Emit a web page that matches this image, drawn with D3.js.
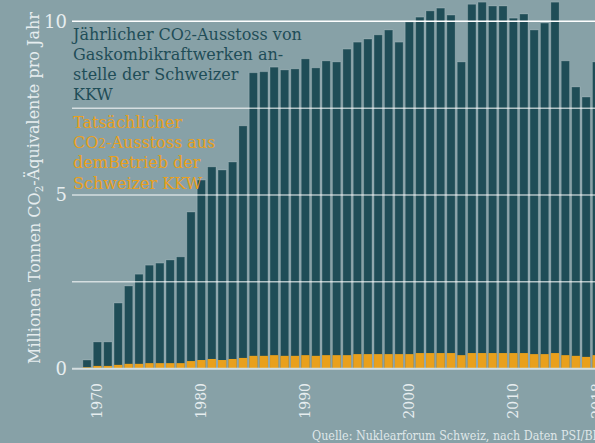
<!DOCTYPE html>
<html>
<head>
<meta charset="utf-8">
<script src="https://cdn.jsdelivr.net/npm/d3@7"></script>
<style>
  body { margin: 0; background: #87a1a7; }
  svg { display: block; font-family: "DejaVu Serif", serif; }
</style>
</head>
<body>
<div id="chart"></div>
<script>
// years shown as bars
var years = d3.range(1969, 2019);
// CO2 if gas combined-cycle plants replaced the Swiss NPPs (Mio t / year)
var gasValues = [0.25, 0.77, 0.77, 1.89, 2.38, 2.72, 2.98, 3.04, 3.13, 3.22,
  4.51, 5.43, 5.81, 5.72, 5.95, 6.99, 8.52, 8.55, 8.68, 8.60,
  8.63, 8.92, 8.66, 8.86, 8.83, 9.20, 9.40, 9.49, 9.61, 9.75,
  9.40, 9.98, 10.12, 10.30, 10.38, 10.18, 8.83, 10.49, 10.55, 10.44,
  10.44, 10.09, 10.21, 9.75, 9.95, 10.55, 8.86, 8.11, 7.82, 8.83];
// actual CO2 from operating the Swiss NPPs
var actualValues = [0.04, 0.08, 0.08, 0.11, 0.14, 0.14, 0.16, 0.16, 0.16, 0.16,
  0.22, 0.25, 0.28, 0.25, 0.28, 0.31, 0.37, 0.37, 0.39, 0.37,
  0.37, 0.39, 0.37, 0.39, 0.39, 0.39, 0.42, 0.42, 0.42, 0.42,
  0.42, 0.42, 0.45, 0.45, 0.45, 0.45, 0.39, 0.45, 0.45, 0.45,
  0.45, 0.45, 0.45, 0.42, 0.42, 0.45, 0.39, 0.37, 0.34, 0.39];
var xTickYears = [1970, 1980, 1990, 2000, 2010, 2018];
var yTickLabels = [0, 5, 10];
var gridValues = [2.5, 5, 7.5, 10];

var width = 595, height = 443;
var darkCol = "#1f4d57", orangeCol = "#e9a01c", lightText = "#e6edef";

var svg = d3.select("#chart").append("svg")
  .attr("width", width).attr("height", height);

var x = d3.scaleBand().domain(years).range([81.8, 601.8])
  .paddingInner(0.2).paddingOuter(0.1);
var y = d3.scaleLinear().domain([0, 10]).range([368.7, 21.3]);

// gas bars
svg.append("g").selectAll("rect")
  .data(years)
  .enter().append("rect")
  .attr("x", function(d) { return x(d); })
  .attr("width", x.bandwidth())
  .attr("y", function(d, i) { return y(gasValues[i]); })
  .attr("height", function(d, i) { return y(0) - y(gasValues[i]); })
  .attr("fill", darkCol)
  .attr("stroke", "rgba(255,255,255,0.18)")
  .attr("stroke-width", 1);

// actual bars
svg.append("g").selectAll("rect")
  .data(years)
  .enter().append("rect")
  .attr("x", function(d) { return x(d); })
  .attr("width", x.bandwidth())
  .attr("y", function(d, i) { return y(actualValues[i]); })
  .attr("height", function(d, i) { return y(0) - y(actualValues[i]); })
  .attr("fill", orangeCol);

// grid lines, drawn on top of the bars
svg.append("g").selectAll("line")
  .data(gridValues)
  .enter().append("line")
  .attr("x1", 72).attr("x2", width)
  .attr("y1", function(d) { return y(d); })
  .attr("y2", function(d) { return y(d); })
  .attr("stroke", "#fff")
  .attr("stroke-opacity", function(d) { return d == 10 ? 1 : 0.65; })
  .attr("stroke-width", 1.5);

// zero line
svg.append("line")
  .attr("x1", 72).attr("x2", width)
  .attr("y1", y(0)).attr("y2", y(0))
  .attr("stroke", "#d4dee0").attr("stroke-width", 2);

// y tick labels
svg.append("g").selectAll("text")
  .data(yTickLabels)
  .enter().append("text")
  .attr("x", 67)
  .attr("y", function(d) { return y(d); })
  .attr("dy", "0.36em")
  .attr("text-anchor", "end")
  .attr("fill", lightText)
  .style("font-size", "18px")
  .text(function(d) { return d; });

// x tick labels, rotated
svg.append("g").selectAll("text")
  .data(xTickYears)
  .enter().append("text")
  .attr("transform", function(d) {
    return "translate(" + (x(d) + x.bandwidth() / 2) + ",383) rotate(-90)";
  })
  .attr("text-anchor", "end")
  .attr("dy", "0.36em")
  .attr("fill", lightText)
  .style("font-size", "14px")
  .text(function(d) { return d; });

// y axis title
var yTitle = svg.append("text")
  .attr("transform", "translate(40,188) rotate(-90)")
  .attr("text-anchor", "middle")
  .attr("fill", lightText)
  .style("font-size", "16px");
yTitle.append("tspan").text("Millionen Tonnen CO");
yTitle.append("tspan").attr("dy", "0.25em").style("font-size", "10.5px").text("2");
yTitle.append("tspan").attr("dy", "-0.25em").text("-Äquivalente pro Jahr");

// legend blocks
function legendBlock(lines, top, col) {
  lines.forEach(function(line, i) {
    var t = svg.append("text").attr("fill", col).style("font-size", "16px")
      .attr("x", 73).attr("y", top + i * 20.2);
    var parts = line.split("CO2");
    t.append("tspan").text(parts[0]);
    if (parts.length > 1) {
      t.append("tspan").text("CO");
      t.append("tspan").style("font-size", "12px").text("2");
      t.append("tspan").text(parts[1]);
    }
  });
}
legendBlock(["Jährlicher CO2-Ausstoss von", "Gaskombikraftwerken an-",
  "stelle der Schweizer", "KKW"], 39.5, darkCol);
legendBlock(["Tatsächlicher", "CO2-Ausstoss aus", "demBetrieb der",
  "Schweizer KKW"], 128, orangeCol);

// source
svg.append("text")
  .attr("x", 312).attr("y", 440)
  .attr("fill", "#dfe7e9")
  .style("font-size", "12.4px")
  .style("font-stretch", "condensed")
  .text("Quelle: Nuklearforum Schweiz, nach Daten PSI/BFE");
</script>
</body>
</html>
